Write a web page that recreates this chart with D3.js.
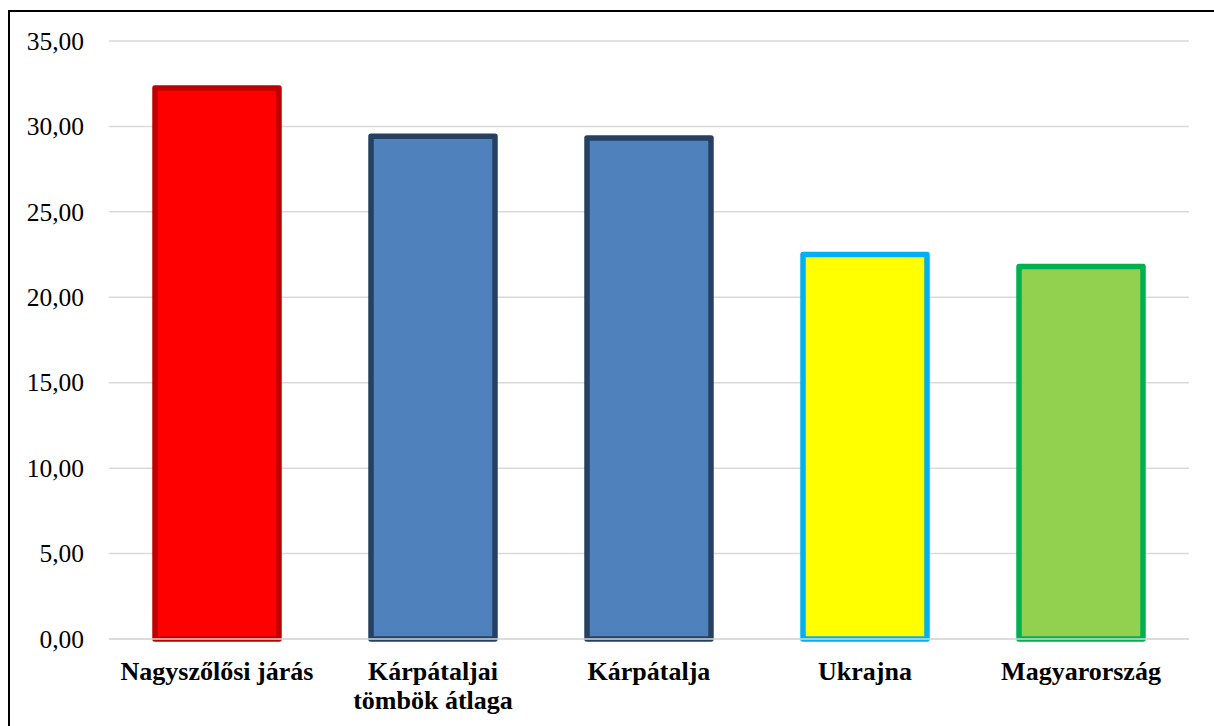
<!DOCTYPE html>
<html>
<head>
<meta charset="utf-8">
<script src="https://cdn.jsdelivr.net/npm/d3@7"></script>
<style>
  body { margin: 0; background: #fff; }
  svg { display: block; }
</style>
</head>
<body>
<div id="chart"></div>
<script>
var categories = ["Nagyszőlősi járás", "Kárpátaljai\ntömbök átlaga", "Kárpátalja", "Ukrajna", "Magyarország"]
var values = [32.25, 29.43, 29.32, 22.50, 21.80]
var fills = ["#FF0000", "#4F81BD", "#4F81BD", "#FFFF00", "#92D050"]
var strokes = ["#C00000", "#254061", "#254061", "#00B0F0", "#00B050"]
var yTicks = [0, 5, 10, 15, 20, 25, 30, 35]

var W = 1214, H = 726
var margin = {top: 41, left: 109, right: 25, bottom: 87}

var svg = d3.select("#chart")
  .append("svg")
  .attr("width", W)
  .attr("height", H)

// outer frame (only top and left edge visible in the picture)
svg.append("rect")
  .attr("x", 9).attr("y", 11)
  .attr("width", W).attr("height", H)
  .attr("fill", "#fff")
  .attr("stroke", "#000")
  .attr("stroke-width", 2)

var xScale = d3.scaleBand()
  .domain(categories)
  .range([margin.left, W - margin.right])
  .paddingInner(0.426)
  .paddingOuter(0.213)

var yScale = d3.scaleLinear()
  .domain([0, 35])
  .range([H - margin.bottom, margin.top])

var fmt = function(d) { return d3.format(".2f")(d).replace(".", ",") }

// gridlines
svg.append("g")
  .selectAll("line")
  .data(yTicks)
  .enter()
  .append("line")
  .attr("x1", margin.left)
  .attr("x2", W - margin.right)
  .attr("y1", function(d) { return yScale(d) })
  .attr("y2", function(d) { return yScale(d) })
  .attr("stroke", "#D9D9D9")
  .attr("stroke-width", 1.5)

// tick labels
svg.append("g")
  .selectAll("text")
  .data(yTicks)
  .enter()
  .append("text")
  .attr("x", 84)
  .attr("y", function(d) { return yScale(d) })
  .attr("dy", "0.34em")
  .attr("text-anchor", "end")
  .attr("font-family", "'Liberation Serif', 'Times New Roman', serif")
  .attr("font-size", "25.5px")
  .attr("fill", "#000")
  .text(fmt)

// bars
svg.append("g")
  .selectAll("rect")
  .data(values)
  .enter()
  .append("rect")
  .attr("x", function(d, i) { return xScale(categories[i]) })
  .attr("y", function(d) { return yScale(d) })
  .attr("width", xScale.bandwidth())
  .attr("height", function(d) { return yScale(0) - yScale(d) })
  .attr("fill", function(d, i) { return fills[i] })
  .attr("stroke", function(d, i) { return strokes[i] })
  .attr("stroke-width", 5.5)
  .attr("stroke-linejoin", "round")

// baseline drawn over the bars
svg.append("line")
  .attr("x1", margin.left)
  .attr("x2", W - margin.right)
  .attr("y1", yScale(0))
  .attr("y2", yScale(0))
  .attr("stroke", "#D9D9D9")
  .attr("stroke-width", 1.5)

// category labels
var labels = svg.append("g")
  .selectAll("text")
  .data(categories)
  .enter()
  .append("text")
  .attr("text-anchor", "middle")
  .attr("font-family", "'Liberation Serif', 'Times New Roman', serif")
  .attr("font-size", "26px")
  .attr("font-weight", "bold")
  .attr("fill", "#000")

labels.selectAll("tspan")
  .data(function(d) { return d.split("\n").map(function(t) { return {t: t, c: d} }) })
  .enter()
  .append("tspan")
  .attr("x", function(d) { return xScale(d.c) + xScale.bandwidth() / 2 })
  .attr("y", function(d, i) { return 680 + i * 28.5 })
  .text(function(d) { return d.t })
</script>
</body>
</html>
